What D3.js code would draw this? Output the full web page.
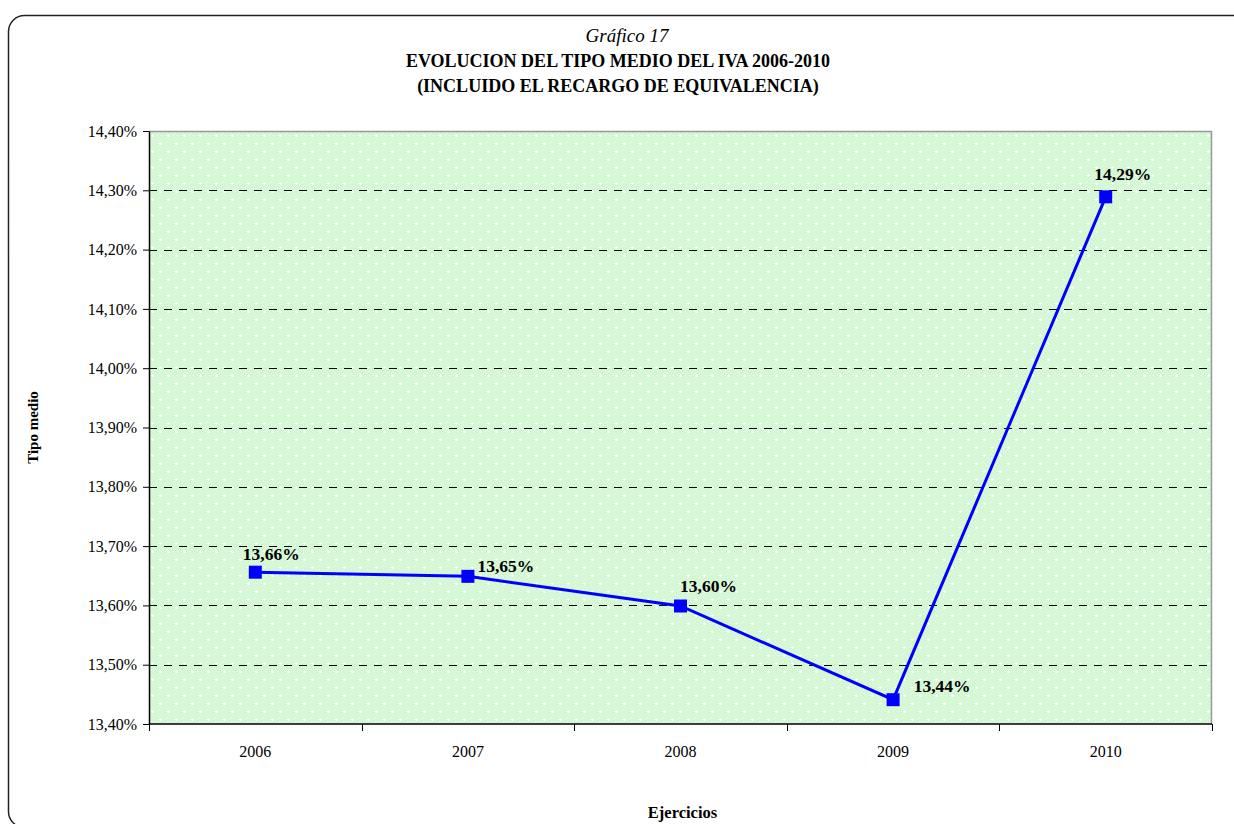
<!DOCTYPE html>
<meta charset="utf-8">
<script src="https://d3js.org/d3.v7.min.js"></script>
<style>
  body { margin: 0; background: #fff; }
  text { font-family: "Liberation Serif", "Times New Roman", serif; }
</style>
<div id="my_dataviz"></div>
<script>

// data
var years = ["2006", "2007", "2008", "2009", "2010"];
var tipoMedio = [13.656, 13.649, 13.599, 13.441, 14.289];
var yTicks = [13.4, 13.5, 13.6, 13.7, 13.8, 13.9, 14.0, 14.1, 14.2, 14.3, 14.4];

// label offsets (dx, dy) from each point, as Excel placed them
var labelOffsets = [[16, -12], [38, -4], [28, -14], [49, -8], [17, -17]];

var W = 1234, H = 824;
var margin = {top: 131, right: 22, bottom: 100, left: 149},
    width = W - margin.left - margin.right,
    height = H - margin.top - margin.bottom;

var fmt = function(v) { return v.toFixed(2).replace(".", ",") + "%"; };

var root = d3.select("#my_dataviz")
  .append("svg")
    .attr("width", W)
    .attr("height", H)
    .attr("font-family", "Liberation Serif");

// background pattern for the plot area
var defs = root.append("defs");
var pat = defs.append("pattern")
  .attr("id", "dots")
  .attr("patternUnits", "userSpaceOnUse")
  .attr("width", 16).attr("height", 16);
pat.append("rect").attr("width", 16).attr("height", 16).attr("fill", "#d3f6d3");
// fine checker
for (var i = 0; i < 16; i += 2) {
  for (var j = 0; j < 16; j += 2) {
    if (((i + j) / 2) % 2 === 0)
      pat.append("rect").attr("x", i).attr("y", j).attr("width", 1).attr("height", 1).attr("fill", "#ecfcec");
  }
}
// small white plus marks
[[3, 4], [11, 12]].forEach(function(p) {
  pat.append("rect").attr("x", p[0] - 1).attr("y", p[1]).attr("width", 3).attr("height", 1).attr("fill", "#fff");
  pat.append("rect").attr("x", p[0]).attr("y", p[1] - 1).attr("width", 1).attr("height", 3).attr("fill", "#fff");
});

// outer rounded frame
root.append("rect")
  .attr("x", 8.5).attr("y", 15.5)
  .attr("width", 1260).attr("height", 812)
  .attr("rx", 16).attr("ry", 16)
  .attr("fill", "none")
  .attr("stroke", "#222")
  .attr("stroke-width", 1.5);

// title
var title = root.append("text")
  .attr("text-anchor", "middle")
  .attr("x", 618);
title.append("tspan").attr("x", 627).attr("y", 42)
  .style("font-style", "italic").style("font-size", "19px").text("Gráfico 17");
title.append("tspan").attr("x", 618).attr("y", 67)
  .style("font-weight", "bold").style("font-size", "18px").text("EVOLUCION DEL TIPO MEDIO DEL IVA 2006-2010");
title.append("tspan").attr("x", 618).attr("y", 92)
  .style("font-weight", "bold").style("font-size", "18px").text("(INCLUIDO EL RECARGO DE EQUIVALENCIA)");

var svg = root.append("g")
  .attr("transform", "translate(" + margin.left + "," + margin.top + ")");

var x = d3.scaleBand()
  .domain(years)
  .range([0, width]);

var y = d3.scaleLinear()
  .domain([13.4, 14.4])
  .range([height, 0]);

// plot area
svg.append("rect")
  .attr("width", width)
  .attr("height", height)
  .attr("fill", "url(#dots)");

// gridlines
svg.append("g")
  .selectAll("line")
  .data(yTicks.filter(function(d) { return d > 13.41 && d < 14.39; }))
  .enter()
  .append("line")
    .attr("x1", 0).attr("x2", width)
    .attr("y1", function(d) { return Math.round(y(d)) + 0.5; })
    .attr("y2", function(d) { return Math.round(y(d)) + 0.5; })
    .attr("stroke", "#000")
    .attr("stroke-dasharray", "8,7");

// top and right border in gray
svg.append("path")
  .attr("d", "M0,0.5H" + (width - 0.5) + "V" + height)
  .attr("fill", "none")
  .attr("stroke", "#999")
  .attr("stroke-width", 1.5);

// Y axis
var yAxis = svg.append("g")
  .call(d3.axisLeft(y).tickValues(yTicks).tickSize(6).tickSizeOuter(0).tickFormat(fmt));
yAxis.attr("font-family", null);
yAxis.select(".domain").attr("stroke", "#000").attr("stroke-width", 1.5);
yAxis.selectAll("text")
  .attr("x", -12)
  .style("font-size", "16px")
  .attr("fill", "#000");

// X axis with ticks on category boundaries
var xAxis = svg.append("g")
  .attr("transform", "translate(0," + height + ")");
xAxis.append("line")
  .attr("x1", 0).attr("x2", width)
  .attr("stroke", "#000").attr("stroke-width", 1.5);
var bounds = years.map(function(d) { return x(d); }).concat([width]);
xAxis.selectAll(".tk")
  .data(bounds)
  .enter()
  .append("line")
    .attr("class", "tk")
    .attr("x1", function(d) { return Math.round(d) + 0.5; })
    .attr("x2", function(d) { return Math.round(d) + 0.5; })
    .attr("y1", 0).attr("y2", 7)
    .attr("stroke", "#000");
xAxis.selectAll(".lbl")
  .data(years)
  .enter()
  .append("text")
    .attr("class", "lbl")
    .attr("x", function(d) { return x(d) + x.bandwidth() / 2; })
    .attr("y", 33)
    .attr("text-anchor", "middle")
    .style("font-size", "16px")
    .text(function(d) { return d; });

// axis titles
svg.append("text")
  .attr("transform", "rotate(-90)")
  .attr("x", -height / 2)
  .attr("y", -111)
  .attr("text-anchor", "middle")
  .style("font-weight", "bold")
  .style("font-size", "15px")
  .text("Tipo medio");

svg.append("text")
  .attr("x", width / 2 + 2)
  .attr("y", height + 94)
  .attr("text-anchor", "middle")
  .style("font-weight", "bold")
  .style("font-size", "16.5px")
  .text("Ejercicios");

// line
var pts = years.map(function(d, i) { return {year: d, v: tipoMedio[i], i: i}; });
svg.append("path")
  .datum(pts)
  .attr("fill", "none")
  .attr("stroke", "#0000ff")
  .attr("stroke-width", 3)
  .attr("d", d3.line()
    .x(function(d) { return x(d.year) + x.bandwidth() / 2; })
    .y(function(d) { return y(d.v); }));

// markers
svg.append("g")
  .selectAll("rect")
  .data(pts)
  .enter()
  .append("rect")
    .attr("x", function(d) { return x(d.year) + x.bandwidth() / 2 - 6.5; })
    .attr("y", function(d) { return y(d.v) - 6.5; })
    .attr("width", 13).attr("height", 13)
    .attr("fill", "#0000ff");

// data labels
svg.append("g")
  .selectAll("text")
  .data(pts)
  .enter()
  .append("text")
    .attr("x", function(d) { return x(d.year) + x.bandwidth() / 2 + labelOffsets[d.i][0]; })
    .attr("y", function(d) { return y(d.v) + labelOffsets[d.i][1]; })
    .attr("text-anchor", "middle")
    .style("font-weight", "bold")
    .style("font-size", "17.5px")
    .text(function(d) { return fmt(d.v); });

</script>
